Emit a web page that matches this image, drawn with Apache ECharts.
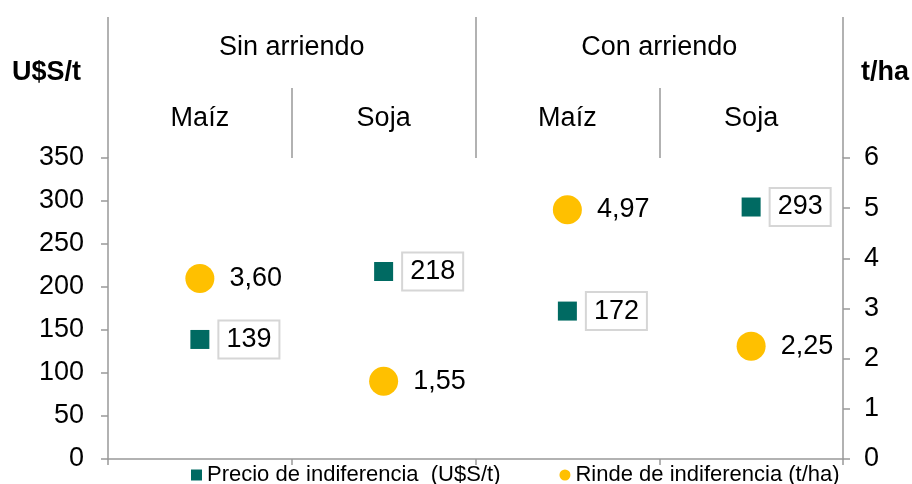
<!DOCTYPE html>
<html>
<head>
<meta charset="utf-8">
<script src="https://cdn.jsdelivr.net/npm/echarts@6/dist/echarts.min.js"></script>
<style>
html, body { margin: 0; padding: 0; background: #fff; }
#main { width: 912px; height: 484px; }
</style>
</head>
<body>
<div id="main"></div>
<script>
// datos
var grupos = ['Sin arriendo', 'Con arriendo'];
var cultivos = ['Maíz', 'Soja', 'Maíz', 'Soja'];
var claves = ['sin-maiz', 'sin-soja', 'con-maiz', 'con-soja'];
var precio = [139, 218, 172, 293];      // U$S/t
var rinde = [3.60, 1.55, 4.97, 2.25];   // t/ha
var nombrePrecio = 'Precio de indiferencia  (U$S/t)';
var nombreRinde = 'Rinde de indiferencia (t/ha)';

var fuente = 'Liberation Sans, Arial, sans-serif';
var gris = '#999999';

var chart = echarts.init(document.getElementById('main'));

chart.setOption({
    animation: false,
    textStyle: { fontFamily: fuente },
    grid: { left: 108, right: 69, top: 158, bottom: 25 },
    legend: {
        left: 186,
        top: 459,
        itemGap: 59,
        itemWidth: 11,
        itemHeight: 11,
        textStyle: { fontSize: 22, color: '#000', fontFamily: fuente },
        data: [
            { name: nombrePrecio, icon: 'rect' },
            { name: nombreRinde, icon: 'circle' }
        ]
    },
    graphic: [
        { type: 'text', left: 12, top: 59, style: { text: 'U$S/t', font: 'bold 27px ' + fuente, fill: '#000' } },
        { type: 'text', left: 861, top: 59, style: { text: 't/ha', font: 'bold 27px ' + fuente, fill: '#000' } }
    ],
    xAxis: [
        {
            type: 'category',
            data: claves,
            position: 'bottom',
            axisLine: { lineStyle: { color: gris, width: 1.5 } },
            axisTick: { show: true, length: 6, lineStyle: { color: gris, width: 1.5 } },
            axisLabel: { show: false }
        },
        {
            // cultivos
            type: 'category',
            data: cultivos,
            position: 'top',
            axisLine: { show: false, onZero: false },
            axisTick: { show: true, length: 70, lineStyle: { color: gris, width: 1.5 } },
            axisLabel: { margin: 26, fontSize: 27, color: '#000' }
        },
        {
            // grupos
            type: 'category',
            data: grupos,
            position: 'top',
            offset: 70,
            axisLine: { show: false, onZero: false },
            axisTick: { show: true, length: 71, lineStyle: { color: gris, width: 1.5 } },
            axisLabel: { margin: 27, fontSize: 27, color: '#000' }
        }
    ],
    yAxis: [
        {
            type: 'value',
            min: 0, max: 350, interval: 50,
            position: 'left',
            axisLine: { show: true, lineStyle: { color: gris, width: 1.5 } },
            axisTick: { show: true, length: 7, lineStyle: { color: gris, width: 1.5 } },
            splitLine: { show: false },
            axisLabel: { margin: 24, fontSize: 27, color: '#000' }
        },
        {
            type: 'value',
            min: 0, max: 6, interval: 1,
            position: 'right',
            axisLine: { show: true, lineStyle: { color: gris, width: 1.5 } },
            axisTick: { show: true, length: 7, lineStyle: { color: gris, width: 1.5 } },
            splitLine: { show: false },
            axisLabel: { margin: 21, fontSize: 27, color: '#000' }
        }
    ],
    series: [
        {
            name: nombrePrecio,
            type: 'scatter',
            xAxisIndex: 0,
            yAxisIndex: 0,
            symbol: 'rect',
            symbolSize: 19,
            itemStyle: { color: '#006A62', opacity: 1 },
            label: {
                show: true,
                position: 'right',
                distance: 9,
                fontSize: 27,
                color: '#000',
                borderColor: '#d6d6d6',
                borderWidth: 2,
                padding: [6, 8, 5, 8],
                formatter: function (p) { return String(p.value); }
            },
            data: precio
        },
        {
            name: nombreRinde,
            type: 'scatter',
            xAxisIndex: 0,
            yAxisIndex: 1,
            symbol: 'circle',
            symbolSize: 29,
            itemStyle: { color: '#FFC000', opacity: 1 },
            label: {
                show: true,
                position: 'right',
                distance: 15,
                fontSize: 27,
                color: '#000',
                formatter: function (p) { return p.value.toFixed(2).replace('.', ','); }
            },
            data: rinde
        }
    ]
});
</script>
</body>
</html>
